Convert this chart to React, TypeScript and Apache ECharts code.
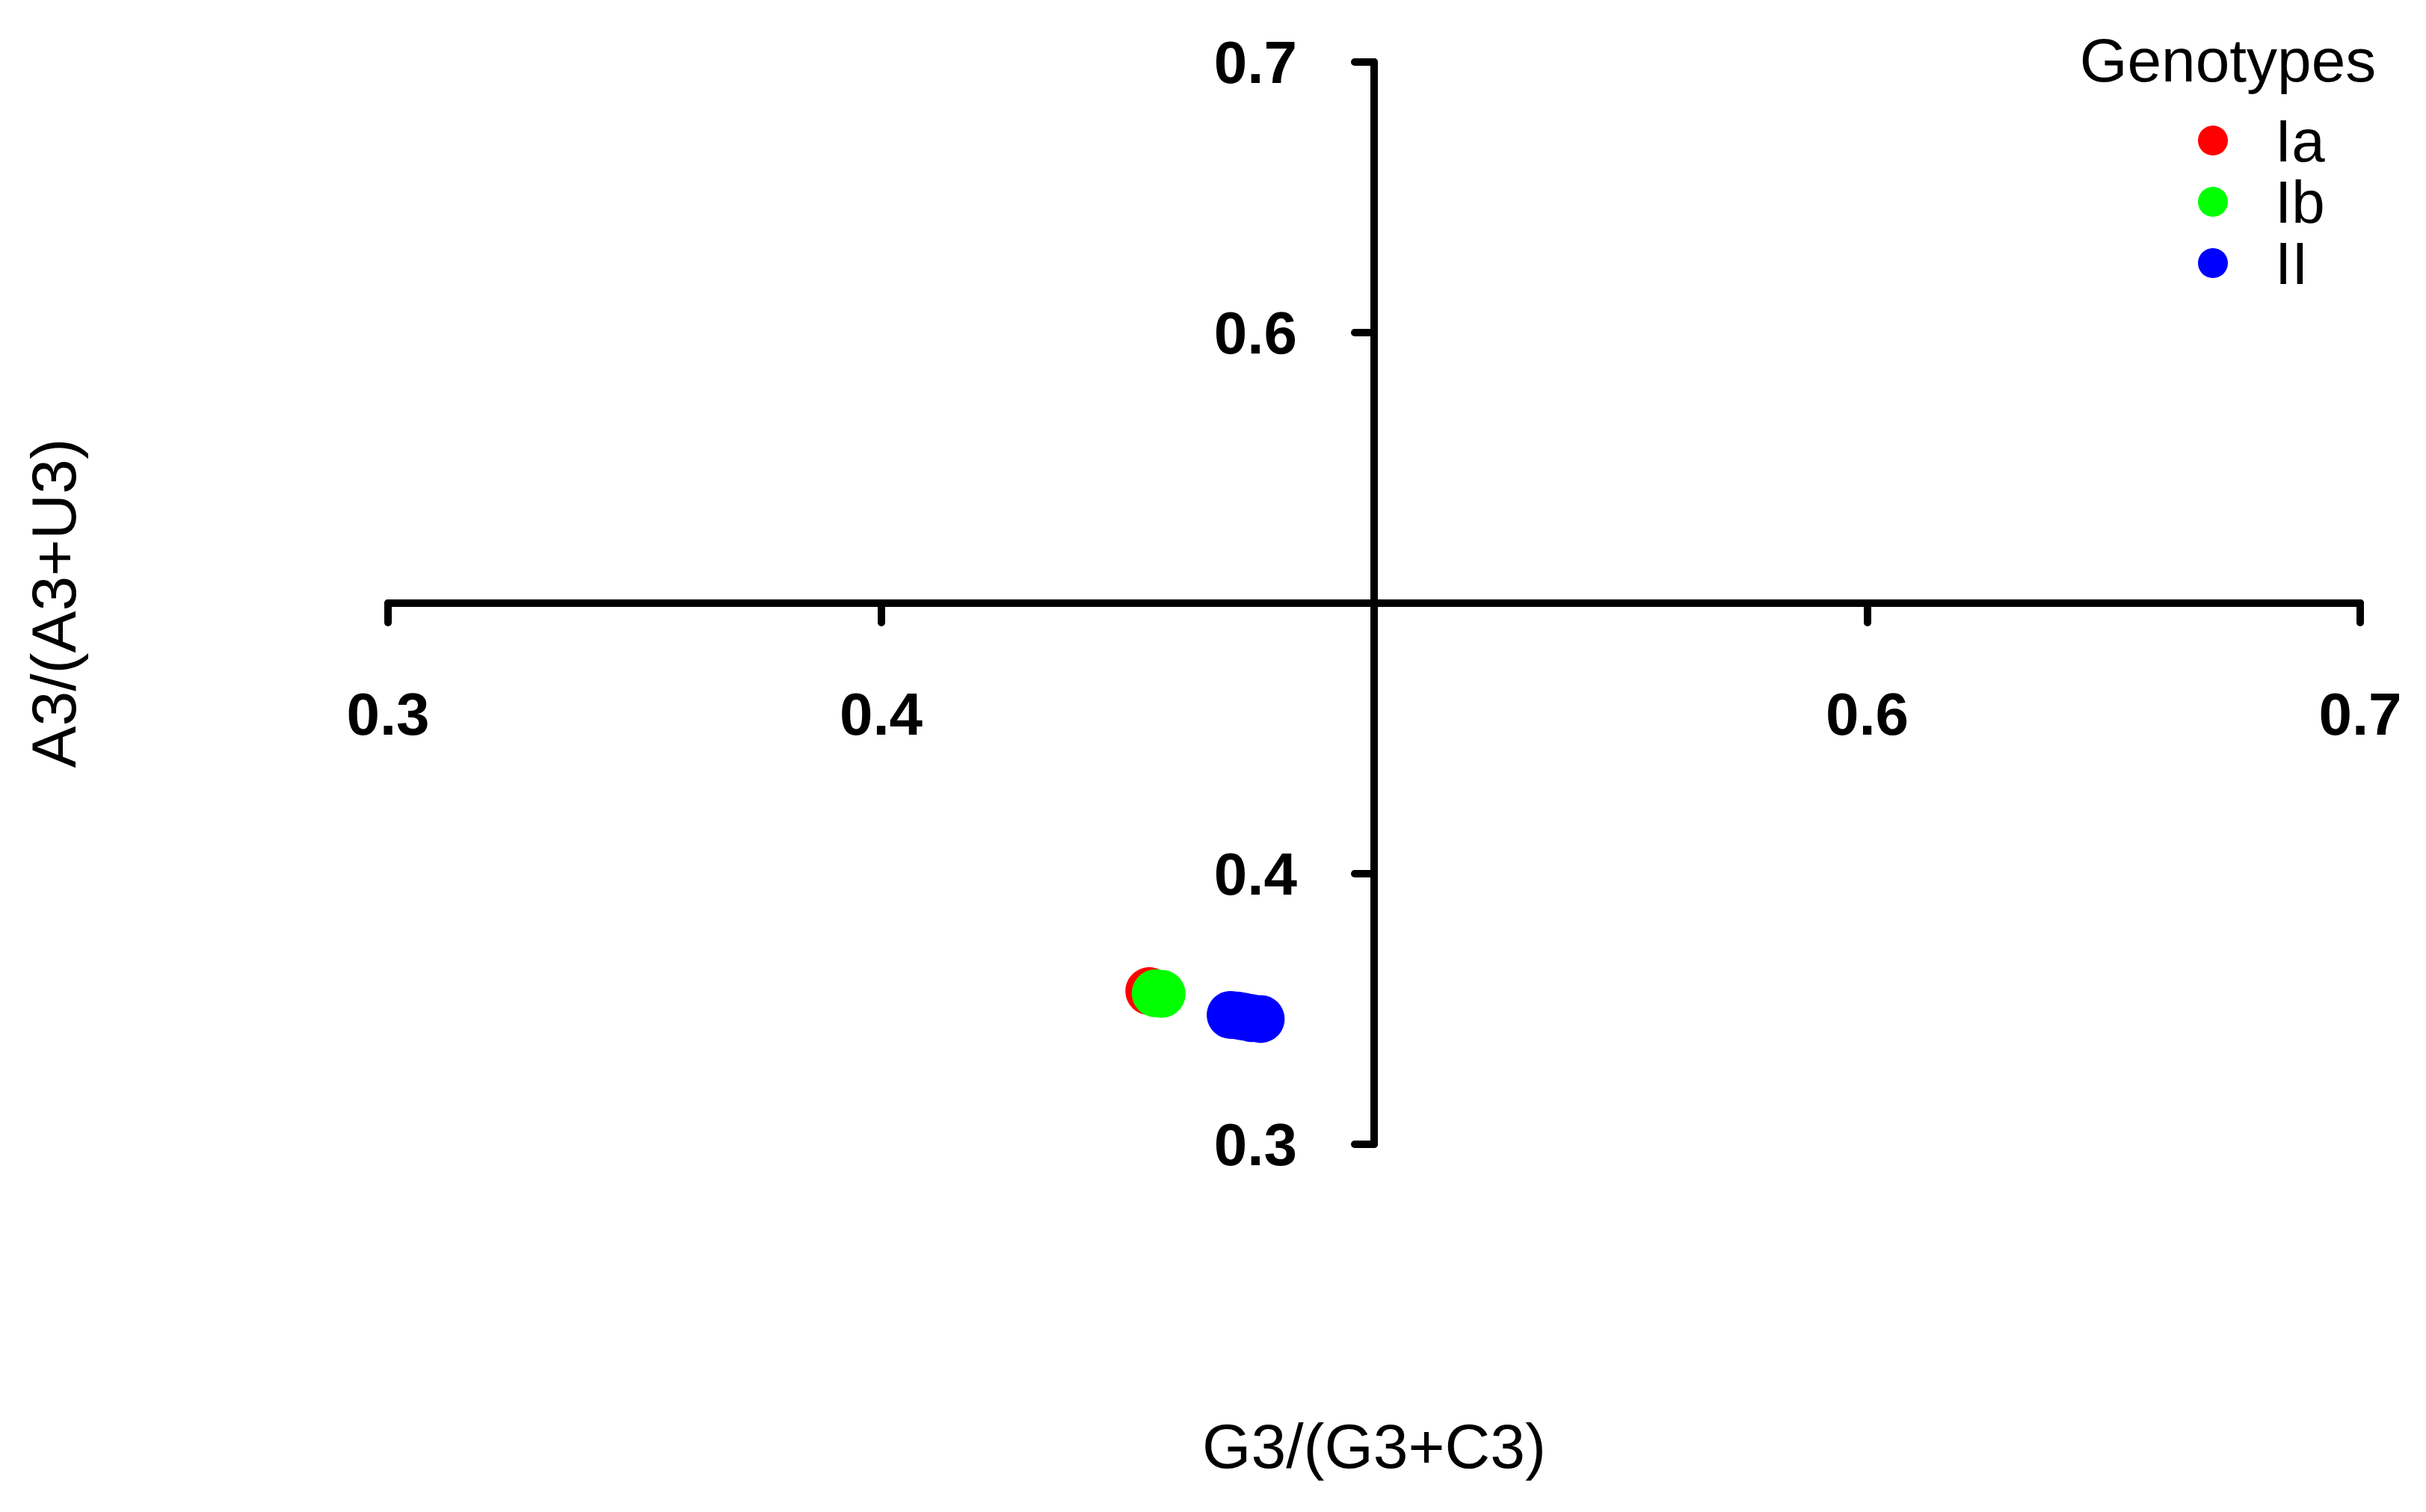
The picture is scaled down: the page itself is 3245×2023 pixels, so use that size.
import React, { useEffect, useRef } from "react";
import * as echarts from "echarts";

const seriesNames = ["Ia", "Ib", "II"];
const seriesColors = ["#FF0000", "#00FF00", "#0000FF"];
const iaPoints: number[][] = [[0.4544, 0.3566]];
const ibPoints: number[][] = [[0.4557, 0.3558], [0.4569, 0.3556]];
const iiPoints: number[][] = [
  [0.4709, 0.3478],
  [0.4722, 0.3476],
  [0.4735, 0.3472],
  [0.4752, 0.3466],
  [0.4770, 0.3463],
];
const axisMin = 0.3;
const axisMax = 0.7;
const axisInterval = 0.1;
const crossValue = 0.5;
const xTitle = "G3/(G3+C3)";
const yTitle = "A3/(A3+U3)";
const legendTitle = "Genotypes";

const W = 3245;
const H = 2023;
const FONT = "'Liberation Sans', Arial, sans-serif";

export default function App() {
  const ref = useRef<HTMLDivElement>(null);
  useEffect(() => {
    if (!ref.current) return;
    const chart = echarts.init(ref.current, null, { renderer: "svg", width: W, height: H });
    const gridLeft = 519;
    const gridRight = W - 3157;
    const gridTop = 83;
    const gridBottom = H - 1531;
    const gw = W - gridLeft - gridRight;
    const gh = H - gridTop - gridBottom;
    const fmt = (v: number) => (Math.abs(v - crossValue) < 1e-9 ? "" : v.toFixed(1));
    const lineStyle = { color: "#000", width: 10, cap: "round" as const };
    const data = [iaPoints, ibPoints, iiPoints];
    chart.setOption({
      animation: false,
      backgroundColor: "#fff",
      grid: { left: gridLeft, right: gridRight, top: gridTop, bottom: gridBottom, containLabel: false },
      xAxis: {
        type: "value",
        min: axisMin,
        max: axisMax,
        interval: axisInterval,
        position: "bottom",
        offset: -gh * ((crossValue - axisMin) / (axisMax - axisMin)),
        axisLine: { show: true, onZero: false, lineStyle },
        axisTick: { show: true, length: 26, inside: false, lineStyle },
        splitLine: { show: false },
        axisLabel: {
          formatter: fmt,
          fontFamily: FONT,
          fontWeight: "bold",
          fontSize: 80,
          color: "#000",
          margin: 108,
          showMinLabel: true,
          showMaxLabel: true,
        },
      },
      yAxis: {
        type: "value",
        min: axisMin,
        max: axisMax,
        interval: axisInterval,
        position: "left",
        offset: -gw * ((crossValue - axisMin) / (axisMax - axisMin)),
        axisLine: { show: true, onZero: false, lineStyle },
        axisTick: { show: true, length: 26, inside: false, lineStyle },
        splitLine: { show: false },
        axisLabel: {
          formatter: fmt,
          fontFamily: FONT,
          fontWeight: "bold",
          fontSize: 80,
          color: "#000",
          margin: 103,
          showMinLabel: true,
          showMaxLabel: true,
        },
      },
      legend: {
        orient: "vertical",
        left: 2940,
        top: 148,
        padding: 0,
        itemGap: 2,
        itemWidth: 40,
        itemHeight: 40,
        icon: "circle",
        data: seriesNames,
        textStyle: {
          fontFamily: FONT,
          fontSize: 80,
          color: "#000",
          padding: [0, 0, 0, 58],
        },
      },
      graphic: [
        {
          type: "text",
          x: 1838,
          y: 1935,
          style: {
            text: xTitle,
            fontFamily: FONT,
            fontSize: 84,
            fill: "#000",
            align: "center",
            verticalAlign: "middle",
          },
        },
        {
          type: "text",
          x: 72,
          y: 807,
          rotation: Math.PI / 2,
          style: {
            text: yTitle,
            fontFamily: FONT,
            fontSize: 84,
            fill: "#000",
            align: "center",
            verticalAlign: "middle",
          },
        },
        {
          type: "text",
          x: 2980,
          y: 80,
          style: {
            text: legendTitle,
            fontFamily: FONT,
            fontSize: 82,
            fill: "#000",
            align: "center",
            verticalAlign: "middle",
          },
        },
      ],
      series: seriesNames.map((name, i) => ({
        name,
        type: "scatter",
        data: data[i],
        symbol: "circle",
        symbolSize: 64,
        itemStyle: { color: seriesColors[i], opacity: 1 },
        emphasis: { disabled: true },
      })),
    });
    return () => chart.dispose();
  }, []);
  return (
    <div
      ref={ref}
      style={{ position: "fixed", left: 0, top: 0, width: W, height: H, background: "#fff" }}
    />
  );
}
